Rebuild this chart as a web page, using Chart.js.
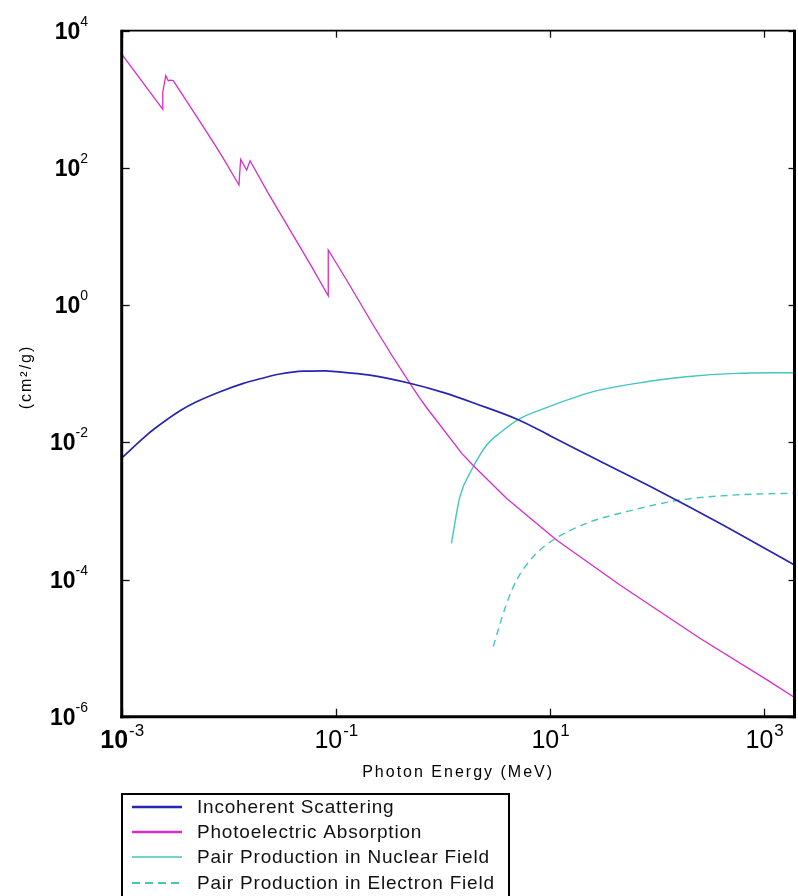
<!DOCTYPE html>
<html>
<head>
<meta charset="utf-8">
<script src="https://cdn.jsdelivr.net/npm/chart.js@4.4.1/dist/chart.umd.min.js"></script>
<style>
  html, body { margin: 0; padding: 0; background: #ffffff; }
  canvas { display: block; }
</style>
</head>
<body>
<canvas id="chart" width="798" height="896"></canvas>
<script>
// Photon interaction cross sections for lead (cm^2/g) against photon energy (MeV)

const incoherentE = [0.001, 0.00165, 0.00205, 0.0036, 0.005, 0.0083, 0.0137, 0.02, 0.03, 0.05, 0.08, 0.1, 0.2, 0.5, 1, 2, 5, 10, 30, 100, 400, 1000, 1920];
const incoherentV = [0.0059, 0.0121, 0.016, 0.0296, 0.039, 0.0547, 0.0724, 0.085, 0.099, 0.109, 0.110, 0.107, 0.096, 0.072, 0.0534, 0.0368, 0.0215, 0.0125, 0.0052, 0.00202, 0.00064, 0.000288, 0.000163];

const photoE = [0.001, 0.00165, 0.00242, 0.00242, 0.00258, 0.00272, 0.00285, 0.00303, 0.0046, 0.00743, 0.00889, 0.01245, 0.0129, 0.0147, 0.0158, 0.0234, 0.0415, 0.0594, 0.0849, 0.0849, 0.126, 0.223, 0.332, 0.492, 0.61, 0.705, 1.5, 1.92, 3.94, 11.5, 45, 251, 1130, 1920];
const photoV = [4570, 1590, 714, 1290, 2210, 1860, 1900, 1870, 690, 216, 138, 56.4, 133, 93, 127, 42.6, 9.4, 3.63, 1.37, 6.35, 2.32, 0.513, 0.1875, 0.0724, 0.0437, 0.0319, 0.0069, 0.00459, 0.00152, 0.000377, 0.000083, 0.0000139, 0.00000324, 0.0000019];

const pairNucE = [1.2, 1.44, 1.85, 2.56, 3.4, 5.24, 8.65, 25.3, 64.4, 188, 552, 1920];
const pairNucV = [0.000337, 0.00161, 0.00394, 0.00912, 0.0137, 0.0222, 0.0307, 0.0547, 0.0724, 0.0904, 0.101, 0.1035];

const pairElecE = [2.95, 3.28, 3.94, 4.88, 6.97, 10.7, 21.9, 51.9, 163, 552, 1920];
const pairElecV = [1.05e-5, 1.84e-5, 4.5e-5, 9.8e-5, 2.15e-4, 3.77e-4, 6.6e-4, 9.75e-4, 1.44e-3, 1.71e-3, 1.81e-3];

const xTickExps = [-3, -1, 1, 3];
const yTickExps = [-6, -4, -2, 0, 2, 4];

const seriesLabels = [
  'Incoherent Scattering',
  'Photoelectric Absorption',
  'Pair Production in Nuclear Field',
  'Pair Production in Electron Field'
];
const xTitle = 'Photon Energy (MeV)';
const yTitle = '(cm\u00B2/g)';

const BLUE = '#2626b2';
const MAGENTA = '#d82cc8';
const CYAN = '#44c6be';

const toPoints = (xs, ys) => xs.map((x, i) => ({ x: x, y: ys[i] }));

const FONT = '"Liberation Sans", Arial, Helvetica, sans-serif';

function strokeLine(ctx, x1, y1, x2, y2) {
  ctx.beginPath();
  ctx.moveTo(x1, y1);
  ctx.lineTo(x2, y2);
  ctx.stroke();
}

// Frame, inward ticks, power-of-ten labels, axis titles and the boxed key
const framePlugin = {
  id: 'frame',
  afterDraw(chart) {
    const ctx = chart.ctx;
    const a = chart.chartArea;
    const xs = chart.scales.x;
    const ys = chart.scales.y;
    ctx.save();

    // ticks
    ctx.strokeStyle = '#111';
    ctx.lineWidth = 1.3;
    xTickExps.forEach(e => {
      const px = Math.round(xs.getPixelForValue(Math.pow(10, e))) + 0.5;
      strokeLine(ctx, px, a.bottom, px, a.bottom - 8);
      strokeLine(ctx, px, a.top, px, a.top + 7);
    });
    yTickExps.forEach(e => {
      const py = Math.round(ys.getPixelForValue(Math.pow(10, e))) + 0.5;
      strokeLine(ctx, a.left, py, a.left + 8, py);
      strokeLine(ctx, a.right, py, a.right - 6, py);
    });

    // frame
    ctx.strokeStyle = '#000';
    ctx.lineWidth = 1.8;
    strokeLine(ctx, a.left, a.top, a.right, a.top);
    ctx.lineWidth = 3;
    strokeLine(ctx, a.right, a.top - 0.9, a.right, a.bottom + 1.5);
    strokeLine(ctx, a.left, a.top - 0.9, a.left, a.bottom + 1.5);
    strokeLine(ctx, a.left - 1.5, a.bottom, a.right + 1.5, a.bottom);

    ctx.fillStyle = '#000';
    ctx.textBaseline = 'alphabetic';

    // y tick labels: bold "10" with exponent, right aligned
    yTickExps.forEach(e => {
      const py = ys.getPixelForValue(Math.pow(10, e));
      const sup = String(e);
      ctx.font = '14px ' + FONT;
      const supW = ctx.measureText(sup).width;
      ctx.font = 'bold 23px ' + FONT;
      const baseW = ctx.measureText('10').width;
      const right = 88;
      ctx.textAlign = 'left';
      ctx.fillText('10', right - supW - baseW, py + 8);
      ctx.font = '14px ' + FONT;
      ctx.fillText(sup, right - supW, py - 5);
    });

    // x tick labels: "10" with exponent, centred under the tick
    xTickExps.forEach((e, i) => {
      const px = xs.getPixelForValue(Math.pow(10, e));
      const sup = String(e);
      const baseFont = (i === 0 ? 'bold ' : '') + '25px ' + FONT;
      ctx.font = '17px ' + FONT;
      const supW = ctx.measureText(sup).width;
      ctx.font = baseFont;
      const baseW = ctx.measureText('10').width;
      const start = px - (baseW + supW) / 2;
      ctx.textAlign = 'left';
      ctx.fillText('10', start, 748);
      ctx.font = '17px ' + FONT;
      ctx.fillText(sup, start + baseW + 1, 736);
    });

    // axis titles
    ctx.font = '16px ' + FONT;
    ctx.letterSpacing = '2px';
    ctx.textAlign = 'center';
    ctx.fillText(xTitle, (a.left + a.right) / 2, 777);
    ctx.save();
    ctx.translate(31, 377);
    ctx.rotate(-Math.PI / 2);
    ctx.textBaseline = 'alphabetic';
    ctx.fillText(yTitle, 0, 0);
    ctx.restore();
    ctx.letterSpacing = '0px';

    // key box
    ctx.strokeStyle = '#000';
    ctx.lineWidth = 2;
    ctx.strokeRect(122, 794, 387, 120);
    const rowY = [807, 832, 857, 883];
    chart.data.datasets.forEach((ds, i) => {
      ctx.strokeStyle = ds.borderColor;
      ctx.lineWidth = ds.keyWidth;
      ctx.setLineDash(ds.borderDash ? [8, 5] : []);
      strokeLine(ctx, 132, rowY[i], 182, rowY[i]);
      ctx.setLineDash([]);
      ctx.fillStyle = '#111';
      ctx.font = '19px ' + FONT;
      ctx.letterSpacing = '0.8px';
      ctx.textAlign = 'left';
      ctx.textBaseline = 'middle';
      ctx.fillText(seriesLabels[i], 197, rowY[i] + 1);
      ctx.letterSpacing = '0px';
    });

    ctx.restore();
  }
};

new Chart(document.getElementById('chart'), {
  type: 'line',
  data: {
    datasets: [
      {
        label: seriesLabels[0],
        data: toPoints(incoherentE, incoherentV),
        borderColor: BLUE,
        borderWidth: 1.7,
        keyWidth: 2.6,
        cubicInterpolationMode: 'monotone',
        pointRadius: 0
      },
      {
        label: seriesLabels[1],
        data: toPoints(photoE, photoV),
        borderColor: MAGENTA,
        borderWidth: 1.3,
        keyWidth: 2.6,
        tension: 0,
        pointRadius: 0
      },
      {
        label: seriesLabels[2],
        data: toPoints(pairNucE, pairNucV),
        borderColor: CYAN,
        borderWidth: 1.4,
        keyWidth: 1.6,
        cubicInterpolationMode: 'monotone',
        pointRadius: 0
      },
      {
        label: seriesLabels[3],
        data: toPoints(pairElecE, pairElecV),
        borderColor: CYAN,
        borderWidth: 1.4,
        borderDash: [7, 5],
        keyWidth: 2,
        cubicInterpolationMode: 'monotone',
        pointRadius: 0
      }
    ]
  },
  options: {
    responsive: false,
    animation: false,
    layout: { padding: { left: 121.7, right: 3.5, top: 30.7, bottom: 179.3 } },
    plugins: { legend: { display: false }, tooltip: { enabled: false } },
    scales: {
      x: { type: 'logarithmic', min: 1e-3, max: 1920, display: false },
      y: { type: 'logarithmic', min: 1e-6, max: 1e4, display: false }
    }
  },
  plugins: [framePlugin]
});
</script>
</body>
</html>
